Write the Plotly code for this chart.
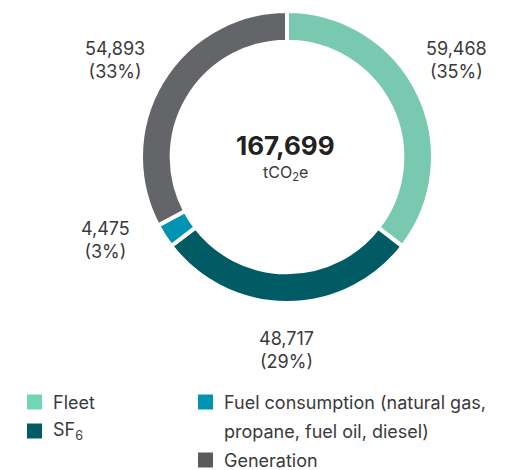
import plotly.graph_objects as go

categories = ["Fleet", "SF<sub>6</sub>", "Fuel consumption (natural gas,<br>propane, fuel oil, diesel)", "Generation"]
values = [59468, 48717, 4475, 54893]
percent_labels = ["35%", "29%", "3%", "33%"]
colors = ["#79C9B0", "#005B64", "#0093B2", "#646568"]
legend_colors = ["#70D6B7", "#005B64", "#0093B2", "#5A5B5D"]
total_label = "167,699"
unit_label = "tCO<sub>2</sub>e"

W, H = 516, 470
FONT = "Inter, Liberation Sans, Arial, sans-serif"
TXT = "#3a3a3a"

def px(x):
    return x / W

def py(y):
    return 1 - y / H

fig = go.Figure()
cx, cy, r = 287, 157, 146
fig.add_trace(go.Pie(
    values=values,
    labels=[c.replace("<br>", " ") for c in categories],
    marker=dict(colors=colors, line=dict(color="white", width=4)),
    hole=0.79,
    sort=False,
    direction="clockwise",
    rotation=0,
    textinfo="none",
    hoverinfo="label+value+percent",
    showlegend=False,
    domain=dict(x=[px(cx - r), px(cx + r)], y=[py(cy + r), py(cy - r)]),
))

# slice value labels
label_pos = [(456, 60), (286, 350), (105, 240), (115, 60)]
annotations = []
for v, p, (lx, ly) in zip(values, percent_labels, label_pos):
    annotations.append(dict(
        x=px(lx), y=py(ly), xref="paper", yref="paper",
        text=f"{v:,}<br>({p})", showarrow=False,
        font=dict(family=FONT, size=18, color=TXT),
        xanchor="center", yanchor="middle", align="center",
    ))

# centre text
annotations.append(dict(x=px(285), y=py(145), xref="paper", yref="paper",
                        text=f"<b>{total_label}</b>", showarrow=False,
                        font=dict(family=FONT, size=26, color="#222222"),
                        xanchor="center", yanchor="middle"))
annotations.append(dict(x=px(285), y=py(173), xref="paper", yref="paper",
                        text=unit_label, showarrow=False,
                        font=dict(family=FONT, size=16, color=TXT),
                        xanchor="center", yanchor="middle"))

# custom legend (two columns), 29 px line pitch
legend_pos = [(27, 402), (27, 431), (198, 402), (198, 460)]
LINE = 29
shapes = []
for cat, col, (lx, ly) in zip(categories, legend_colors, legend_pos):
    shapes.append(dict(type="rect", xref="paper", yref="paper",
                       x0=px(lx), x1=px(lx + 15), y0=py(ly + 7.5), y1=py(ly - 7.5),
                       fillcolor=col, line=dict(width=0)))
    for i, line in enumerate(cat.split("<br>")):
        annotations.append(dict(x=px(lx + 24), y=py(ly + i * LINE), xref="paper", yref="paper",
                                text=line, showarrow=False, align="left",
                                font=dict(family=FONT, size=18, color=TXT),
                                xanchor="left", yanchor="middle"))

fig.update_layout(
    width=W, height=H,
    margin=dict(l=0, r=0, t=0, b=0),
    paper_bgcolor="white", plot_bgcolor="white",
    annotations=annotations, shapes=shapes,
    showlegend=False,
)

fig.write_html("out.html", config={"displayModeBar": False},
               post_script="document.body.style.margin='0';document.body.style.padding='0';")
